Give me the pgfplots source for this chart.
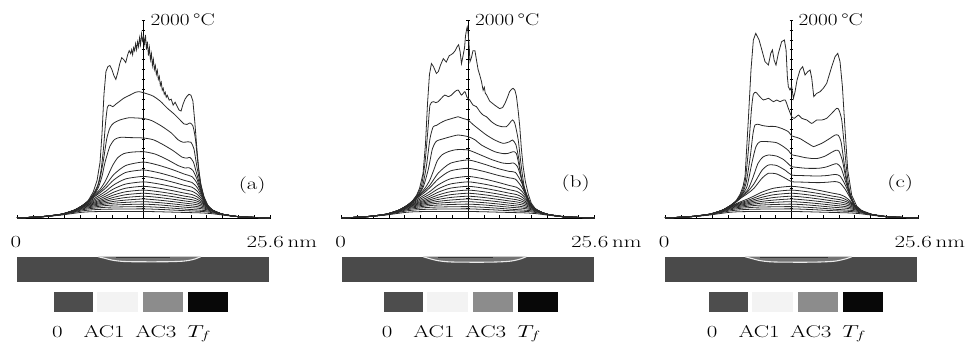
\documentclass[border=0pt]{standalone}
\usepackage{pgfplots}
\pgfplotsset{compat=1.18}
\usepackage{pgfplotstable}
\usepackage{graphicx}
\usepackage{fontspec}
\definecolor{barc}{HTML}{4A4A4A}
\definecolor{boxa}{HTML}{4D4D4D}
\definecolor{boxb}{HTML}{F3F3F3}
\definecolor{boxc}{HTML}{8C8C8C}
\definecolor{boxd}{HTML}{080808}
\definecolor{crv}{HTML}{2A2A2A}
\newcommand{\lab}[1]{\scalebox{1.35}[1]{\fontsize{17}{20}\selectfont #1}}

\pgfplotstableread{
x     L3  L4  L5  L6  L7  L8  L9  L10 L11 L12 L13 L14
0     0   0   0   0   0   0   0   0   0   0   0   0
2.5   13  13  13  14  14  14  14  14  14  14  13  12
4.5   38  38  38  39  39  39  39  38  37  36  34  30
5.8   80  80  79  79  78  77  75  72  68  63  57  48
6.6   122 121 119 117 114 110 105 99  92  83  72  58
7.2   160 152 145 139 133 127 120 112 103 92  79  62
7.8   196 182 170 159 150 141 132 122 111 99  84  64
8.4   232 212 194 179 167 155 144 132 119 104 87  65
9.0   272 245 222 202 185 170 155 141 126 108 89  66
9.8   335 295 261 233 209 188 168 150 131 111 90  66
11.0  395 343 301 265 235 207 181 158 136 113 91  66
12.8  420 365 320 282 250 220 192 165 140 115 92  66
14.4  395 343 301 265 235 207 180 155 132 108 87  63
15.8  361 314 275 243 215 189 165 142 120 99  80  59
17.0  328 285 250 220 195 172 150 129 109 90  74  56
17.7  311 270 237 209 185 163 142 122 104 85  71  54
18.2  275 242 215 191 171 152 134 116 100 82  69  53
18.7  210 192 176 161 148 134 120 106 93  78  66  51
19.2  128 125 122 118 114 108 101 93  84  73  62  48
19.8  78  78  78  77  76  75  73  70  66  60  53  43
20.8  38  38  38  38  38  38  38  38  37  36  34  30
22.5  12  12  12  12  13  13  13  13  13  13  13  12
25.6  0   0   0   0   0   0   0   0   0   0   0   0
}\lowtab

\pgfplotsset{
  panel/.style={scale only axis, width=253pt, height=198pt,
    xmin=0, xmax=25.6, ymin=0, ymax=2000, hide axis, clip=false,
    anchor=south west},
  cv/.style={crv, line width=0.8pt, smooth, tension=0.4, mark=none},
  tp/.style={crv, line width=0.8pt, mark=none},
}

\newcommand{\axesparts}{%
  \pgfplotsinvokeforeach{0,1.6,3.2,4.8,6.4,8,9.6,11.2,12.8,14.4,16,17.6,19.2,20.8,22.4,24,25.6}{%
    \draw[black, line width=0.6pt] (axis cs:##1,0) ++(0pt,-1pt) -- ++(0pt,3.5pt);}
  \pgfplotsinvokeforeach{100,200,300,400,500,600,700,800,900,1000,1100,1200,1300,1400,1500,1600,1700,1800,1900,2000}{%
    \draw[black, line width=0.5pt] (axis cs:12.8,##1) ++(-2pt,0pt) -- ++(3.5pt,0pt);}
  \draw[black, line width=0.8pt] (axis cs:0,0) -- (axis cs:25.6,0);
  \draw[black, line width=0.8pt] (axis cs:12.8,0) -- (axis cs:12.8,2000);
  \node[anchor=west, inner sep=0pt, xshift=7pt] at (axis cs:12.8,2000) {\scalebox{1.25}[1]{\fontsize{17}{20}\selectfont 2000\,°C}};
  \node[anchor=base, inner sep=0pt] at (axis cs:-0.1,-296) {\lab{0}};
  \node[anchor=base, inner sep=0pt] at (axis cs:26.8,-296) {\lab{25.6\,nm}};
  \addplot[fill=barc, draw=none] coordinates {(0,-391) (25.5,-391) (25.5,-643) (0,-643)} -- cycle;
}

\newcommand{\lowerA}{%
  \addplot[cv] table[x=x,y=L3]{\lowtab};
  \addplot[cv] table[x=x,y=L4]{\lowtab};
}
\newcommand{\lowerB}{%
  \addplot[cv] table[x=x,y=L5]{\lowtab};
  \addplot[cv] table[x=x,y=L6]{\lowtab};
  \addplot[cv] table[x=x,y=L7]{\lowtab};
  \addplot[cv] table[x=x,y=L8]{\lowtab};
  \addplot[cv] table[x=x,y=L9]{\lowtab};
  \addplot[cv] table[x=x,y=L10]{\lowtab};
  \addplot[cv] table[x=x,y=L11]{\lowtab};
  \addplot[cv] table[x=x,y=L12]{\lowtab};
  \addplot[cv] table[x=x,y=L13]{\lowtab};
  \addplot[cv] table[x=x,y=L14]{\lowtab};
}

\begin{document}
\begin{tikzpicture}
\path[use as bounding box] (0,0) rectangle (974pt,347pt);

%% ---------------- panel (a)
\begin{axis}[panel, at={(17pt,129pt)}]
\axesparts
\lowerA
\lowerB
\addplot[cv] coordinates {(0,0) (2.5,12) (4.5,36) (5.8,78) (6.6,123) (7.2,162) (7.8,212) (8.4,255) (9.0,305) (9.8,385) (11.0,460) (12.8,485) (14.4,456) (15.8,417) (17.0,378) (17.7,359) (18.2,312) (18.7,225) (19.2,129) (19.8,78) (20.8,38) (22.5,12) (25.6,0)};
\addplot[cv] coordinates {(0,0) (2.5,12) (4.5,36) (5.8,78) (6.6,123) (7.2,164) (7.8,220) (8.4,270) (9.0,335) (9.8,440) (11.0,530) (12.8,565) (14.4,531) (15.8,486) (17.0,441) (17.7,418) (18.2,355) (18.7,240) (19.2,130) (19.8,78) (20.8,38) (22.5,12) (25.6,0)};
\addplot[cv] coordinates {(0,0) (2.5,12) (4.5,36) (5.8,78) (6.6,124) (7.2,166) (7.8,228) (8.4,290) (8.9,365) (9.3,450) (9.7,535) (10.2,610) (10.8,650) (11.6,665) (12.8,670) (14.0,645) (15.2,590) (16.3,530) (17.0,505) (17.4,508) (17.8,480) (18.2,395) (18.7,250) (19.2,130) (19.8,78) (20.8,38) (22.5,12) (25.6,0)};
\addplot[cv] coordinates {(0,0) (2.5,12) (4.5,36) (5.8,78) (6.6,124) (7.2,168) (7.8,238) (8.2,300) (8.6,420) (8.9,560) (9.4,725) (9.9,795) (10.5,815) (11.5,812) (12.8,808) (13.8,790) (14.8,740) (15.8,680) (16.7,615) (17.2,605) (17.5,612) (17.85,565) (18.2,440) (18.7,265) (19.2,130) (19.8,78) (20.8,38) (22.5,12) (25.6,0)};
\addplot[cv] coordinates {(0,0) (2.5,12) (4.5,36) (5.8,78) (6.6,124) (7.2,170) (7.8,245) (8.1,300) (8.4,400) (8.74,580) (9.08,800) (9.4,910) (9.75,956) (10.4,990) (11.3,1012) (12.1,1010) (12.8,1005) (13.6,985) (14.6,930) (15.6,860) (16.3,790) (16.8,765) (17.3,770) (17.6,765) (17.9,700) (18.2,520) (18.6,320) (19.0,180) (19.4,112) (19.8,78) (20.8,38) (22.5,12) (25.6,0)};
\addplot[cv] coordinates {(0,0) (2.5,12) (4.5,36) (5.8,78) (6.6,124) (7.2,172) (7.8,255) (8.2,340) (8.5,480) (8.75,700) (8.95,950) (9.15,1120) (9.4,1140) (9.7,1125) (10.0,1150) (10.4,1180) (10.8,1210) (11.4,1240) (12.0,1270) (12.4,1275) (12.8,1265) (13.3,1250) (13.8,1230) (14.5,1180) (15.2,1110) (15.9,1050) (16.5,990) (16.9,950) (17.2,945) (17.5,960) (17.8,930) (18.05,800) (18.3,560) (18.6,340) (19.0,185) (19.4,115) (19.8,78) (20.8,38) (22.5,12) (25.6,0)};
\addplot[tp] coordinates {(0,0) (2.5,12) (4.5,36) (5.8,78) (6.6,124) (7.2,175) (7.7,260) (8.1,380) (8.4,560) (8.6,850) (8.8,1250) (9.0,1480) (9.2,1530) (9.4,1540) (9.6,1500) (9.8,1440) (10.0,1400) (10.2,1470) (10.4,1560) (10.6,1620) (10.8,1600) (11.0,1570) (11.2,1650) (11.35,1690) (11.5,1660) (11.6,1700) (11.7,1650) (11.8,1720) (11.9,1690) (12.0,1760) (12.1,1700) (12.2,1780) (12.3,1730) (12.4,1820) (12.5,1750) (12.6,1860) (12.7,1790) (12.8,1830) (12.9,1760) (13.0,1850) (13.1,1700) (13.2,1780) (13.3,1640) (13.4,1720) (13.5,1600) (13.6,1660) (13.7,1540) (13.8,1600) (13.9,1500) (14.0,1540) (14.1,1450) (14.2,1490) (14.3,1400) (14.4,1430) (14.5,1340) (14.6,1370) (14.7,1290) (14.8,1310) (14.9,1250) (15.0,1270) (15.1,1220) (15.2,1240) (15.4,1190) (15.6,1200) (15.8,1140) (16.0,1170) (16.2,1130) (16.4,1090) (16.6,1080) (16.8,1150) (17.0,1200) (17.2,1230) (17.4,1250) (17.6,1240) (17.8,1180) (18.0,960) (18.2,700) (18.4,480) (18.6,340) (18.9,220) (19.3,130) (19.8,78) (20.8,38) (22.5,12) (25.6,0)};
\node[inner sep=0pt] at (axis cs:23.8,335) {\lab{(a)}};
\addplot[fill=black!55, draw=none] coordinates {(8.2,-391) (8.8,-405) (9.6,-425) (10.6,-438) (12,-442) (15,-442) (16.8,-436) (17.8,-420) (18.3,-403) (18.6,-391)} -- cycle;
\addplot[black!8, line width=1.1pt, smooth] coordinates {(8.2,-391) (8.8,-405) (9.6,-425) (10.6,-438) (12,-442) (15,-442) (16.8,-436) (17.8,-420) (18.3,-403) (18.6,-391)};
\addplot[black!80, line width=1.2pt] coordinates {(10.0,-400) (15.5,-400)};
\addplot[fill=boxa, draw=none] coordinates {(3.77,-744) (7.72,-744) (7.72,-946) (3.77,-946)} -- cycle;
\addplot[fill=boxb, draw=none] coordinates {(8.07,-744) (12.28,-744) (12.28,-946) (8.07,-946)} -- cycle;
\addplot[fill=boxc, draw=none] coordinates {(12.78,-744) (16.77,-744) (16.77,-946) (12.78,-946)} -- cycle;
\addplot[fill=boxd, draw=none] coordinates {(17.28,-744) (21.33,-744) (21.33,-946) (17.28,-946)} -- cycle;
\node[anchor=base, inner sep=0pt] at (axis cs:4.08,-1205) {\lab{0}};
\node[anchor=base, inner sep=0pt] at (axis cs:8.82,-1205) {\lab{AC1}};
\node[anchor=base, inner sep=0pt] at (axis cs:14.05,-1205) {\lab{AC3}};
\node[anchor=base, inner sep=0pt] at (axis cs:18.44,-1205) {\lab{$T_f$}};
\end{axis}

%% ---------------- panel (b)
\begin{axis}[panel, at={(341.5pt,129pt)}]
\axesparts
\lowerA
\lowerB
\addplot[cv] coordinates {(0,0) (2.5,12) (4.5,36) (5.8,78) (6.6,123) (7.2,162) (7.8,212) (8.4,258) (9.0,312) (9.8,395) (11.0,475) (12.8,502) (14.4,470) (15.8,432) (17.0,405) (17.6,392) (18.2,318) (18.7,226) (19.2,129) (19.8,78) (20.8,38) (22.5,12) (25.6,0)};
\addplot[cv] coordinates {(0,0) (2.5,12) (4.5,36) (5.8,78) (6.6,123) (7.2,164) (7.8,220) (8.4,275) (9.0,340) (9.8,455) (11.0,552) (12.8,586) (14.4,545) (15.8,500) (17.0,470) (17.6,460) (18.2,362) (18.7,240) (19.2,130) (19.8,78) (20.8,38) (22.5,12) (25.6,0)};
\addplot[cv] coordinates {(0,0) (2.5,12) (4.5,36) (5.8,78) (6.6,124) (7.2,166) (7.8,228) (8.4,295) (8.9,375) (9.3,475) (9.7,580) (10.2,640) (10.8,670) (11.6,690) (12.8,687) (14.0,640) (15.2,590) (16.3,555) (17.0,550) (17.4,556) (17.8,520) (18.2,400) (18.7,248) (19.2,130) (19.8,78) (20.8,38) (22.5,12) (25.6,0)};
\addplot[cv] coordinates {(0,0) (2.5,12) (4.5,36) (5.8,78) (6.6,124) (7.2,168) (7.8,236) (8.3,320) (8.8,500) (9.2,700) (9.6,775) (10.3,800) (11.0,820) (11.8,838) (12.8,822) (13.5,790) (14.16,737) (15.5,670) (16.4,650) (16.87,653) (17.37,670) (17.7,650) (18.04,490) (18.38,320) (18.89,185) (19.3,118) (19.8,78) (20.8,38) (22.5,12) (25.6,0)};
\addplot[cv] coordinates {(0,0) (2.5,12) (4.5,36) (5.8,78) (6.6,124) (7.2,170) (7.8,240) (8.2,320) (8.6,530) (8.95,800) (9.27,920) (9.6,935) (10.0,960) (10.5,985) (11.0,1000) (11.5,1015) (11.8,1023) (12.3,1005) (12.8,990) (13.3,945) (14.0,889) (14.67,838) (15.5,788) (16.36,754) (17.03,771) (17.3,788) (17.65,740) (17.95,590) (18.2,400) (18.55,255) (19.05,140) (19.7,82) (20.8,38) (22.5,12) (25.6,0)};
\addplot[cv] coordinates {(0,0) (2.5,12) (4.5,36) (5.8,78) (6.6,124) (7.2,172) (7.7,240) (8.1,330) (8.45,560) (8.75,900) (8.95,1140) (9.27,1175) (9.55,1165) (9.78,1175) (10.1,1209) (10.45,1242) (10.8,1226) (11.13,1242) (11.47,1276) (11.8,1293) (12.14,1242) (12.48,1276) (12.72,1215) (12.98,1192) (13.3,1141) (13.65,1125) (14.0,1074) (14.33,1040) (14.67,1023) (15.17,973) (15.67,939) (16.2,923) (16.7,923) (17.03,960) (17.3,990) (17.54,956) (17.88,790) (18.15,555) (18.48,320) (18.89,185) (19.3,118) (19.8,78) (20.8,38) (22.5,12) (25.6,0)};
\addplot[tp] coordinates {(0,0) (2.5,12) (4.5,36) (5.8,78) (6.6,124) (7.2,175) (7.6,230) (7.9,300) (8.25,450) (8.5,750) (8.7,1150) (8.9,1450) (9.1,1560) (9.3,1530) (9.6,1460) (9.8,1480) (10.0,1540) (10.3,1610) (10.6,1575) (10.9,1640) (11.1,1650) (11.3,1665) (11.5,1690) (11.7,1730) (11.85,1750) (12.0,1680) (12.14,1560) (12.3,1640) (12.45,1720) (12.55,1840) (12.65,1900) (12.72,1930) (12.8,1880) (12.9,1760) (13.0,1580) (13.15,1620) (13.3,1690) (13.5,1690) (13.65,1600) (13.82,1500) (14.0,1440) (14.16,1380) (14.33,1290) (14.45,1320) (14.55,1260) (14.67,1245) (15.0,1180) (15.5,1140) (16.0,1105) (16.3,1115) (16.55,1160) (16.8,1220) (17.0,1275) (17.2,1300) (17.37,1310) (17.55,1290) (17.7,1230) (17.88,1080) (18.04,920) (18.2,700) (18.38,520) (18.6,370) (18.9,240) (19.2,150) (19.6,95) (20.2,60) (21.0,35) (23.1,8) (25.6,0)};
\node[inner sep=0pt] at (axis cs:23.7,350) {\lab{(b)}};
\addplot[fill=black!55, draw=none] coordinates {(8.26,-391) (8.9,-410) (9.7,-430) (10.7,-442) (12,-446) (15,-446) (16.9,-438) (17.9,-420) (18.4,-403) (18.7,-391)} -- cycle;
\addplot[black!8, line width=1.1pt, smooth] coordinates {(8.26,-391) (8.9,-410) (9.7,-430) (10.7,-442) (12,-446) (15,-446) (16.9,-438) (17.9,-420) (18.4,-403) (18.7,-391)};
\addplot[black!80, line width=1.2pt] coordinates {(9.8,-400) (15.3,-400)};
\addplot[fill=boxa, draw=none] coordinates {(4.31,-744) (8.26,-744) (8.26,-946) (4.31,-946)} -- cycle;
\addplot[fill=boxb, draw=none] coordinates {(8.61,-744) (12.82,-744) (12.82,-946) (8.61,-946)} -- cycle;
\addplot[fill=boxc, draw=none] coordinates {(13.32,-744) (17.31,-744) (17.31,-946) (13.32,-946)} -- cycle;
\addplot[fill=boxd, draw=none] coordinates {(17.82,-744) (21.87,-744) (21.87,-946) (17.82,-946)} -- cycle;
\node[anchor=base, inner sep=0pt] at (axis cs:4.62,-1205) {\lab{0}};
\node[anchor=base, inner sep=0pt] at (axis cs:9.36,-1205) {\lab{AC1}};
\node[anchor=base, inner sep=0pt] at (axis cs:14.59,-1205) {\lab{AC3}};
\node[anchor=base, inner sep=0pt] at (axis cs:18.98,-1205) {\lab{$T_f$}};
\end{axis}

%% ---------------- panel (c)
\begin{axis}[panel, at={(665pt,129pt)}]
\axesparts
\lowerB
\addplot[cv] coordinates {(0,0) (2.5,12) (4.5,36) (5.8,78) (6.6,123) (7.2,162) (7.8,210) (8.4,250) (9.0,300) (9.8,400) (10.46,451) (11.3,445) (12.2,400) (12.82,367) (14.0,362) (15.5,357) (16.5,362) (17.2,368) (17.7,355) (18.2,295) (18.7,210) (19.2,127) (19.8,78) (20.8,38) (22.5,12) (25.6,0)};
\addplot[cv] coordinates {(0,0) (2.5,12) (4.5,36) (5.8,78) (6.6,123) (7.2,164) (7.8,218) (8.4,270) (9.0,345) (9.8,480) (10.46,535) (11.3,530) (12.2,480) (12.82,434) (14.0,428) (15.5,424) (16.5,430) (17.2,440) (17.7,425) (18.2,342) (18.7,228) (19.2,128) (19.8,78) (20.8,38) (22.5,12) (25.6,0)};
\addplot[cv] coordinates {(0,0) (2.5,12) (4.5,36) (5.8,78) (6.6,124) (7.2,166) (7.8,228) (8.4,290) (8.9,410) (9.4,550) (9.9,615) (10.46,636) (11.3,625) (12.0,590) (12.5,545) (12.82,519) (13.5,510) (14.3,502) (15.5,502) (16.3,515) (17.0,540) (17.4,548) (17.8,510) (18.2,390) (18.7,240) (19.2,127) (19.8,78) (20.8,38) (22.5,12) (25.6,0)};
\addplot[cv] coordinates {(0,0) (2.5,12) (4.5,36) (5.8,78) (6.6,124) (7.2,168) (7.8,238) (8.3,320) (8.8,560) (9.2,720) (9.6,770) (10.46,771) (11.3,760) (12.0,720) (12.5,680) (12.82,640) (13.5,625) (14.17,610) (15.0,600) (15.5,603) (16.2,625) (16.8,660) (17.3,685) (17.6,675) (17.95,580) (18.3,400) (18.7,235) (19.2,125) (19.8,78) (20.8,38) (22.5,12) (25.6,0)};
\addplot[cv] coordinates {(0,0) (2.5,12) (4.5,36) (5.8,78) (6.6,124) (7.2,170) (7.8,245) (8.2,350) (8.6,600) (8.9,850) (9.11,940) (9.5,945) (9.8,935) (10.46,925) (11.13,925) (11.8,905) (12.48,872) (12.82,830) (13.3,815) (13.7,800) (14.17,771) (14.6,745) (15.02,721) (15.4,735) (15.86,754) (16.3,780) (16.7,805) (17.21,838) (17.54,835) (17.81,771) (18.08,586) (18.39,384) (18.72,225) (19.23,125) (19.8,78) (20.8,38) (22.5,12) (25.6,0)};
\addplot[cv] coordinates {(0,0) (2.5,12) (4.5,36) (5.8,78) (6.6,124) (7.2,172) (7.7,245) (8.1,360) (8.45,700) (8.75,1100) (8.94,1250) (9.2,1270) (9.45,1242) (9.96,1192) (10.46,1209) (10.97,1175) (11.3,1192) (11.64,1175) (12.15,1192) (12.48,1108) (12.82,1024) (13.09,1007) (13.5,1040) (13.83,1007) (14.34,990) (14.85,956) (15.35,990) (15.86,990) (16.36,1007) (16.87,1057) (17.38,1108) (17.6,1091) (17.88,990) (18.15,721) (18.42,451) (18.72,255) (19.23,128) (19.74,80) (20.8,38) (22.5,12) (25.6,0)};
\addplot[tp] coordinates {(0,0) (2.5,12) (4.5,36) (5.8,78) (6.6,124) (7.2,175) (7.6,240) (7.9,320) (8.1,420) (8.43,990) (8.7,1495) (8.94,1798) (9.18,1865) (9.52,1798) (9.8,1697) (10.12,1579) (10.46,1545) (10.7,1663) (10.87,1697) (11.04,1596) (11.23,1545) (11.47,1663) (11.8,1781) (12.08,1798) (12.25,1697) (12.38,1428) (12.48,1327) (12.65,1293) (12.82,1327) (12.99,1209) (13.16,1276) (13.36,1394) (13.66,1495) (13.93,1529) (14.17,1444) (14.44,1478) (14.68,1495) (14.85,1411) (15.05,1226) (15.35,1259) (15.69,1276) (16.02,1310) (16.36,1360) (16.87,1529) (17.21,1630) (17.48,1663) (17.71,1579) (17.95,1327) (18.22,889) (18.49,485) (18.89,230) (19.4,120) (19.9,75) (21,35) (23,9) (25.6,0)};
\node[inner sep=0pt] at (axis cs:23.8,355) {\lab{(c)}};
\addplot[fill=black!55, draw=none] coordinates {(8.1,-391) (8.8,-410) (9.6,-430) (10.6,-442) (12,-446) (15,-446) (17,-438) (18,-420) (18.6,-403) (18.9,-391)} -- cycle;
\addplot[black!8, line width=1.1pt, smooth] coordinates {(8.1,-391) (8.8,-410) (9.6,-430) (10.6,-442) (12,-446) (15,-446) (17,-438) (18,-420) (18.6,-403) (18.9,-391)};
\addplot[black!80, line width=1.2pt] coordinates {(9.6,-400) (16.5,-400)};
\addplot[fill=boxa, draw=none] coordinates {(4.47,-744) (8.42,-744) (8.42,-946) (4.47,-946)} -- cycle;
\addplot[fill=boxb, draw=none] coordinates {(8.77,-744) (12.98,-744) (12.98,-946) (8.77,-946)} -- cycle;
\addplot[fill=boxc, draw=none] coordinates {(13.48,-744) (17.47,-744) (17.47,-946) (13.48,-946)} -- cycle;
\addplot[fill=boxd, draw=none] coordinates {(17.98,-744) (22.03,-744) (22.03,-946) (17.98,-946)} -- cycle;
\node[anchor=base, inner sep=0pt] at (axis cs:4.78,-1205) {\lab{0}};
\node[anchor=base, inner sep=0pt] at (axis cs:9.52,-1205) {\lab{AC1}};
\node[anchor=base, inner sep=0pt] at (axis cs:14.75,-1205) {\lab{AC3}};
\node[anchor=base, inner sep=0pt] at (axis cs:19.14,-1205) {\lab{$T_f$}};
\end{axis}
\end{tikzpicture}
\end{document}
